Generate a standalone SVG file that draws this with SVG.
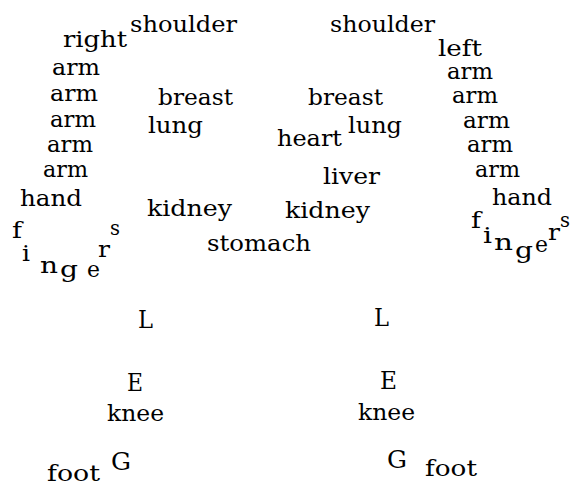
<svg xmlns="http://www.w3.org/2000/svg" width="572" height="488" viewBox="0 0 572 488">
<style>
text{font-family:"DejaVu Serif","Liberation Serif",serif;font-size:23px;fill:#000}
.cap{font-size:25px}
</style>
<rect width="572" height="488" fill="#fff"/>
<g id="right-side">
<text x="130" y="32" textLength="107" lengthAdjust="spacingAndGlyphs">shoulder</text>
<text x="63" y="47" textLength="64" lengthAdjust="spacingAndGlyphs">right</text>
<text x="52" y="75" textLength="48" lengthAdjust="spacingAndGlyphs">arm</text>
<text x="50" y="101" textLength="48" lengthAdjust="spacingAndGlyphs">arm</text>
<text x="50" y="127" textLength="46" lengthAdjust="spacingAndGlyphs">arm</text>
<text x="47" y="152" textLength="46" lengthAdjust="spacingAndGlyphs">arm</text>
<text x="43" y="177" textLength="45" lengthAdjust="spacingAndGlyphs">arm</text>
<text x="20" y="206" textLength="62" lengthAdjust="spacingAndGlyphs">hand</text>
<text x="12" y="238" textLength="10" lengthAdjust="spacingAndGlyphs">f</text>
<text x="22" y="261" textLength="8" lengthAdjust="spacingAndGlyphs">i</text>
<text x="40" y="273" textLength="18" lengthAdjust="spacingAndGlyphs">n</text>
<text x="60" y="277" textLength="18" lengthAdjust="spacingAndGlyphs">g</text>
<text x="87" y="277" textLength="13" lengthAdjust="spacingAndGlyphs">e</text>
<text x="98" y="257" textLength="12" lengthAdjust="spacingAndGlyphs">r</text>
<text x="110" y="235" textLength="10" lengthAdjust="spacingAndGlyphs" style="font-size:20px">s</text>
</g>
<g id="torso">
<text x="158" y="105" textLength="75" lengthAdjust="spacingAndGlyphs">breast</text>
<text x="148" y="133" textLength="55" lengthAdjust="spacingAndGlyphs">lung</text>
<text x="147" y="216" textLength="85" lengthAdjust="spacingAndGlyphs">kidney</text>
<text x="207" y="251" textLength="104" lengthAdjust="spacingAndGlyphs">stomach</text>
<text x="308" y="105" textLength="75" lengthAdjust="spacingAndGlyphs">breast</text>
<text x="277" y="146" textLength="65" lengthAdjust="spacingAndGlyphs">heart</text>
<text x="348" y="133" textLength="54" lengthAdjust="spacingAndGlyphs">lung</text>
<text x="323" y="184" textLength="57" lengthAdjust="spacingAndGlyphs">liver</text>
<text x="285" y="218" textLength="85" lengthAdjust="spacingAndGlyphs">kidney</text>
</g>
<g id="left-side">
<text x="330" y="32" textLength="105" lengthAdjust="spacingAndGlyphs">shoulder</text>
<text x="438" y="56" textLength="44" lengthAdjust="spacingAndGlyphs">left</text>
<text x="447" y="79" textLength="46" lengthAdjust="spacingAndGlyphs">arm</text>
<text x="452" y="103" textLength="46" lengthAdjust="spacingAndGlyphs">arm</text>
<text x="463" y="128" textLength="47" lengthAdjust="spacingAndGlyphs">arm</text>
<text x="467" y="152" textLength="46" lengthAdjust="spacingAndGlyphs">arm</text>
<text x="475" y="177" textLength="45" lengthAdjust="spacingAndGlyphs">arm</text>
<text x="492" y="205" textLength="60" lengthAdjust="spacingAndGlyphs">hand</text>
<text x="471" y="228" textLength="10" lengthAdjust="spacingAndGlyphs">f</text>
<text x="483" y="243" textLength="9" lengthAdjust="spacingAndGlyphs">i</text>
<text x="494" y="250" textLength="19" lengthAdjust="spacingAndGlyphs">n</text>
<text x="515" y="258" textLength="18" lengthAdjust="spacingAndGlyphs">g</text>
<text x="535" y="252" textLength="13" lengthAdjust="spacingAndGlyphs">e</text>
<text x="548" y="240" textLength="12" lengthAdjust="spacingAndGlyphs">r</text>
<text x="560" y="227" textLength="10" lengthAdjust="spacingAndGlyphs" style="font-size:20px">s</text>
</g>
<g id="legs">
<text class="cap" x="138" y="328" textLength="15" lengthAdjust="spacingAndGlyphs">L</text>
<text class="cap" x="127" y="391" textLength="16" lengthAdjust="spacingAndGlyphs">E</text>
<text x="107" y="421" textLength="57" lengthAdjust="spacingAndGlyphs">knee</text>
<text class="cap" x="111" y="470" textLength="20" lengthAdjust="spacingAndGlyphs">G</text>
<text x="47" y="481" textLength="53" lengthAdjust="spacingAndGlyphs">foot</text>
<text class="cap" x="374" y="326" textLength="15" lengthAdjust="spacingAndGlyphs">L</text>
<text class="cap" x="380" y="389" textLength="17" lengthAdjust="spacingAndGlyphs">E</text>
<text x="358" y="420" textLength="57" lengthAdjust="spacingAndGlyphs">knee</text>
<text class="cap" x="387" y="468" textLength="20" lengthAdjust="spacingAndGlyphs">G</text>
<text x="425" y="476" textLength="52" lengthAdjust="spacingAndGlyphs">foot</text>
</g>
</svg>
